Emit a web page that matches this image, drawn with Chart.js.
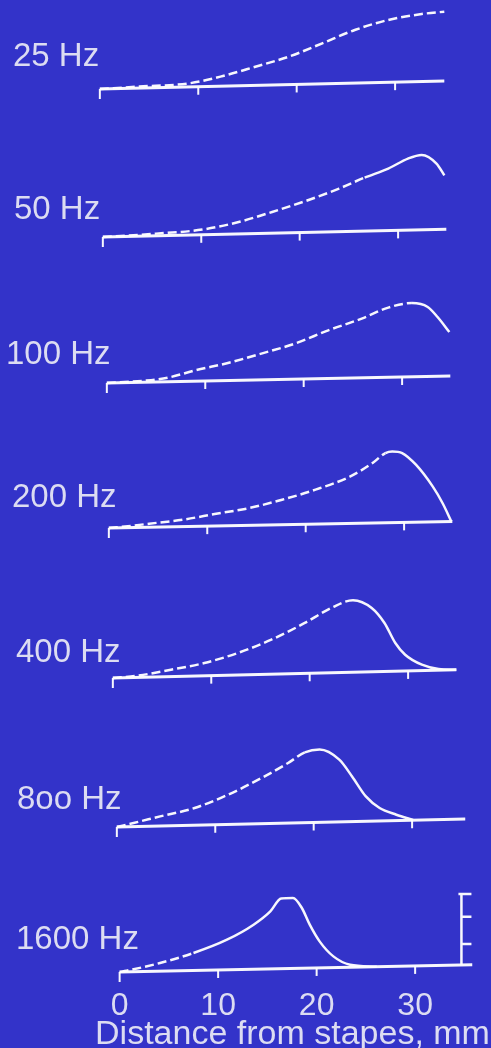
<!DOCTYPE html>
<html>
<head>
<meta charset="utf-8">
<script src="https://cdn.jsdelivr.net/npm/chart.js@4.4.0/dist/chart.umd.min.js"></script>
<style>
  html, body { margin: 0; padding: 0; background: #3333c9; overflow: hidden; }
  #fig { position: relative; width: 491px; height: 1048px; overflow: hidden; }
  canvas { position: absolute; }
  .lbl { position: absolute; font: 33px "Liberation Sans", Arial, sans-serif; line-height: 1; color: #dcdcf2; white-space: nowrap; }
</style>
</head>
<body>
<div id="fig"></div>
<script>
// Travelling wave envelopes, one row per stimulus frequency
const frequencies = ['25 Hz', '50 Hz', '100 Hz', '200 Hz', '400 Hz', '8oo Hz', '1600 Hz'];

// distance from stapes (mm) / relative amplitude
const dist25 = [0, 4, 9.1, 12.5, 15.8, 19.2, 22.6, 25.9, 29.3, 32.7, 35];
const amp25 = [0, 3.5, 8.1, 18.4, 31.5, 45.7, 64.6, 83.4, 97.6, 106, 109.3];

const dist50 = [0, 5.4, 10.1, 13.8, 17.2, 20.6, 24.0, 26.6, 29.0, 31.0, 32.4, 33.9, 34.7];
const amp50 = [0, 4.8, 10.5, 21.2, 35.4, 50.9, 68.4, 84, 96.7, 110.9, 116, 103.8, 87.2];

const dist100 = [0, 4, 6.2, 9.0, 12.3, 15.7, 19.1, 22.5, 25.9, 28.6, 31.0, 32.6, 33.6, 34.8];
const amp100 = [0, 3.5, 7.6, 18, 28.3, 41.6, 55.7, 74.5, 91.1, 106.6, 113, 107.5, 93.3, 72.1];

const dist200 = [0, 2.4, 4.1, 7.5, 10.9, 14.3, 17.6, 21.0, 24.4, 26.8, 28.1, 28.8, 29.8, 31.2, 32.9, 33.9, 34.8];
const amp200 = [0, 3.3, 6.1, 11.7, 20.2, 28.3, 40, 54.2, 72.1, 91.9, 106, 108.3, 106, 89.5, 58.8, 35.4, 9.3];

const dist400 = [0, 2.5, 5.9, 9.3, 12.7, 16.1, 19.5, 22.2, 24.4, 26.3, 27.6, 28.7, 29.7, 31.4, 33.1, 34.9];
const amp400 = [0, 3.3, 11.7, 21.2, 35.4, 54.2, 77.8, 99, 110, 99, 77.8, 49.5, 32.9, 18.8, 12.7, 11.7];

const dist800 = [0, 1.7, 4.4, 7.9, 11.3, 14.7, 17.4, 19.1, 20.6, 22.6, 23.9, 25.3, 26.7, 28.4, 30.1];
const amp800 = [0, 5.7, 15, 26.9, 45.7, 69.3, 90.5, 105.5, 109.5, 95.2, 71.5, 43.3, 26.9, 17.4, 10];

const dist1600 = [0, 0.7, 4.1, 7.5, 10.9, 13.6, 15.3, 16.4, 17.6, 18.5, 19.3, 20.3, 21.7, 23.4, 26.1];
const amp1600 = [0, 1.8, 12.7, 26.9, 45.7, 66.9, 85.7, 103.9, 104.6, 90.5, 66.9, 43.3, 22.1, 10.3, 7.5];

// zero line of each row (drawn slightly tilted in the original)
const baselineEnd = [35, 34.9, 34.9, 34.9, 34.9, 35.4, 35.8];
const baselineRise = [11.3, 10.9, 9.9, 9.3, 11.7, 11.3, 10.3];

const tickValues = [0, 10, 20, 30];
const tickLabels = ['0', '10', '20', '30'];
const axisTitle = 'Distance from stapes, mm';

// amplitude calibration bar in the last row
const scaleBarX = 34.7;
const scaleBarLevels = [9.9, 39.6, 78.2, 110.3];

const distances = [dist25, dist50, dist100, dist200, dist400, dist800, dist1600];
const amplitudes = [amp25, amp50, amp100, amp200, amp400, amp800, amp1600];

// layout: where 0 mm / zero amplitude of each row sits on the page
const pxPerMm = 9.85;
const rowLeft = [100, 103.3, 106.7, 109.3, 113.3, 116.7, 120];
const rowZero = [89, 236.7, 382.7, 528.3, 678.3, 827.3, 972.3];
const dashUntil = [36, 26.2, 29.5, 27.1, 22.9, 18.5, 5.8];
const labelPos = [[13, 37.7], [14, 190.7], [6, 335.7], [12, 478.7], [16, 633.7], [17, 780.7], [16, 920.7]];

const LINE = 'rgba(255,255,255,0.96)';
const TEXT = '#dcdcf2';
const FONT = '"Liberation Sans", Arial, sans-serif';

const axisMarks = {
  id: 'axisMarks',
  afterDatasetsDraw(chart, args, opts) {
    const { ctx, scales: { x, y } } = chart;
    const base = chart.data.datasets[0].data;
    const a = base[0], b = base[base.length - 1];
    ctx.save();
    ctx.strokeStyle = LINE;
    ctx.lineWidth = 2;
    tickValues.forEach(t => {
      const v = a.y + (b.y - a.y) * (t - a.x) / (b.x - a.x);
      const px = x.getPixelForValue(t), py = y.getPixelForValue(v);
      ctx.beginPath();
      ctx.moveTo(px, py);
      ctx.lineTo(px, py + (t === 0 ? 10 : 8));
      ctx.stroke();
    });
    if (opts.scaleBar) {
      const sx = x.getPixelForValue(scaleBarX);
      const lv = scaleBarLevels.map(v => y.getPixelForValue(v));
      ctx.lineWidth = 2.5;
      ctx.beginPath();
      ctx.moveTo(sx, lv[0]);
      ctx.lineTo(sx, lv[lv.length - 1]);
      for (let i = 1; i < lv.length; i++) {
        ctx.moveTo(sx, lv[i]);
        ctx.lineTo(sx + 10, lv[i]);
      }
      ctx.moveTo(sx - 3, lv[lv.length - 1]);
      ctx.lineTo(sx, lv[lv.length - 1]);
      ctx.stroke();
    }
    ctx.restore();
  }
};

const fig = document.getElementById('fig');

frequencies.forEach((name, i) => {
  const last = i === frequencies.length - 1;
  // last row is a bit wider so the axis title is not squeezed
  const xMin = last ? -2.5 : -1;
  const xMax = last ? 37.6 : 37;
  const cv = document.createElement('canvas');
  cv.width = Math.round((xMax - xMin) * pxPerMm);
  cv.height = last ? 168 : 98;
  cv.style.left = (rowLeft[i] + xMin * pxPerMm) + 'px';
  cv.style.top = (rowZero[i] - 88) + 'px';
  fig.appendChild(cv);

  const lbl = document.createElement('div');
  lbl.className = 'lbl';
  lbl.textContent = name;
  lbl.style.left = labelPos[i][0] + 'px';
  lbl.style.top = labelPos[i][1] + 'px';
  fig.appendChild(lbl);

  const dashEnd = dashUntil[i];
  new Chart(cv, {
    type: 'line',
    data: {
      datasets: [{
        data: [{ x: 0, y: 0 }, { x: baselineEnd[i], y: baselineRise[i] }],
        borderColor: LINE,
        borderWidth: 3,
        pointRadius: 0
      }, {
        data: distances[i].map((d, k) => ({ x: d, y: amplitudes[i][k] })),
        borderColor: LINE,
        borderWidth: 2.5,
        pointRadius: 0,
        cubicInterpolationMode: 'monotone',
        segment: {
          borderDash: ctx => ctx.p0.parsed.x < dashEnd ? [9, 4] : []
        }
      }]
    },
    options: {
      responsive: false,
      animation: false,
      devicePixelRatio: 1,
      layout: { padding: 0 },
      plugins: {
        legend: { display: false },
        tooltip: { enabled: false },
        axisMarks: { scaleBar: last }
      },
      scales: {
        x: {
          type: 'linear',
          min: xMin,
          max: xMax,
          display: last,
          grid: { display: false, drawTicks: false },
          border: { display: false },
          afterBuildTicks: axis => { axis.ticks = tickValues.map(v => ({ value: v })); },
          afterFit: axis => {
            if (!last) return;
            axis.height = 70;
            axis.paddingLeft = 0;
            axis.paddingRight = 0;
          },
          ticks: {
            color: TEXT,
            padding: 5,
            maxRotation: 0,
            autoSkip: false,
            font: { family: FONT, size: 32 },
            callback: v => tickLabels[tickValues.indexOf(v)]
          },
          title: {
            display: true,
            text: axisTitle,
            color: TEXT,
            padding: 0,
            font: { family: FONT, size: 34, lineHeight: 1 }
          }
        },
        y: { min: -14.1, max: 124.4, display: false }
      }
    },
    plugins: [axisMarks]
  });
});
</script>
</body>
</html>
